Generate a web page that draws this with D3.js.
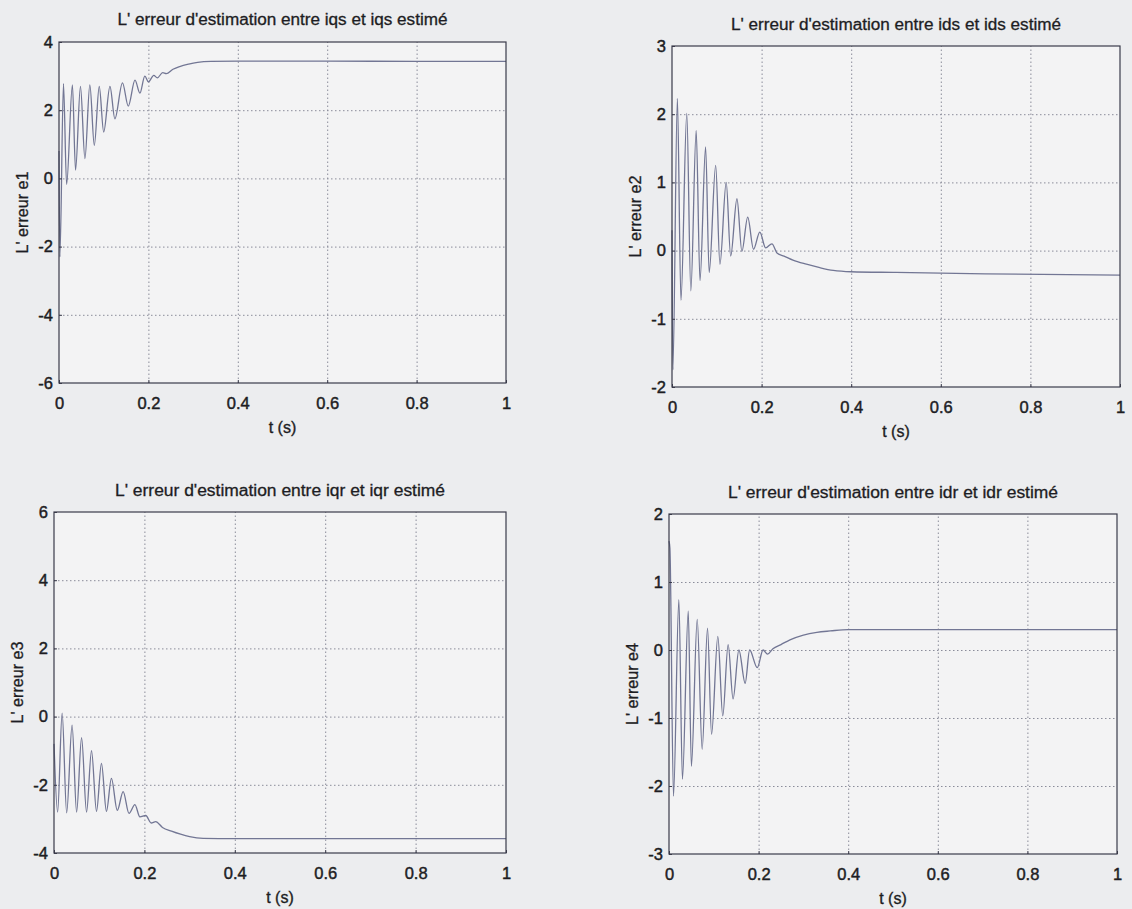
<!DOCTYPE html>
<html>
<head>
<meta charset="utf-8">
<script src="https://cdn.jsdelivr.net/npm/d3@7"></script>
<style>
  html, body { margin: 0; padding: 0; background: #ecedef; }
  svg { display: block; }
  text { font-family: "Liberation Sans", Arial, sans-serif; fill: #1e1e24; }
</style>
</head>
<body>
<svg id="fig" width="1132" height="909"></svg>
<script>
// ---- data -------------------------------------------------------------
const xTicks = [0, 0.2, 0.4, 0.6, 0.8, 1];
const xLabel = "t (s)";

const titles = [
  "L' erreur d'estimation entre iqs et iqs estimé",
  "L' erreur d'estimation entre ids et ids estimé",
  "L' erreur d'estimation entre iqr et iqr estimé",
  "L' erreur d'estimation entre idr et idr estimé"
];
const yLabels = ["L' erreur e1", "L' erreur e2", "L' erreur e3", "L' erreur e4"];

const e1Ticks = [-6, -4, -2, 0, 2, 4];
const e2Ticks = [-2, -1, 0, 1, 2, 3];
const e3Ticks = [-4, -2, 0, 2, 4, 6];
const e4Ticks = [-3, -2, -1, 0, 1, 2];

// e1 : iqs error (peaks / troughs of the transient, then the plateau)
const e1Time = [0, 0.002, 0.01, 0.017, 0.03, 0.037, 0.048, 0.058, 0.069, 0.079, 0.09, 0.1,
  0.114, 0.125, 0.142, 0.155, 0.17, 0.181, 0.192, 0.2, 0.212, 0.22, 0.232, 0.24, 0.255,
  0.27, 0.29, 0.31, 0.34, 0.4, 0.6, 0.8, 1];
const e1Values = [0.8, -2.3, 2.78, -0.18, 2.74, 0.24, 2.7, 0.58, 2.74, 0.97, 2.7, 1.36,
  2.7, 1.75, 2.8, 2.12, 2.88, 2.5, 3.0, 2.83, 3.02, 2.95, 3.1, 3.07, 3.2,
  3.28, 3.35, 3.4, 3.43, 3.44, 3.44, 3.43, 3.43];

// e2 : ids error
const e2Time = [0, 0.002, 0.012, 0.02, 0.033, 0.042, 0.054, 0.0625, 0.075, 0.083, 0.0975,
  0.107, 0.121, 0.131, 0.145, 0.156, 0.169, 0.182, 0.196, 0.209, 0.223, 0.235, 0.25,
  0.27, 0.3, 0.33, 0.36, 0.4, 0.5, 0.7, 1];
const e2Values = [0.3, -1.75, 2.23, -0.73, 2.01, -0.59, 1.76, -0.44, 1.52, -0.32, 1.25,
  -0.2, 1.0, -0.08, 0.76, -0.01, 0.49, 0.02, 0.27, 0.04, 0.1, -0.04, -0.08,
  -0.14, -0.2, -0.25, -0.29, -0.31, -0.32, -0.34, -0.36];

// e3 : iqr error
const e3Time = [0, 0.008, 0.018, 0.028, 0.04, 0.05, 0.061, 0.072, 0.083, 0.094, 0.105,
  0.116, 0.127, 0.14, 0.153, 0.166, 0.179, 0.19, 0.203, 0.215, 0.225, 0.24, 0.26,
  0.28, 0.3, 0.33, 0.4, 0.6, 1];
const e3Values = [-0.8, -2.8, 0.1, -2.82, -0.25, -2.8, -0.62, -2.8, -1.0, -2.78, -1.37,
  -2.78, -1.81, -2.75, -2.2, -2.84, -2.58, -2.94, -2.9, -3.12, -3.08, -3.25, -3.36,
  -3.45, -3.52, -3.57, -3.58, -3.58, -3.58];

// e4 : idr error
const e4Time = [0, 0.002, 0.01, 0.022, 0.03, 0.043, 0.05, 0.063, 0.074, 0.086, 0.095,
  0.109, 0.12, 0.132, 0.143, 0.156, 0.17, 0.18, 0.197, 0.21, 0.22, 0.232, 0.25, 0.27,
  0.3, 0.33, 0.36, 0.4, 0.6, 1];
const e4Values = [1.6, 1.5, -2.15, 0.74, -1.9, 0.57, -1.71, 0.45, -1.46, 0.32, -1.24,
  0.2, -0.97, 0.08, -0.72, 0.0, -0.49, 0.0, -0.26, 0.0, -0.06, 0.02, 0.08, 0.15,
  0.22, 0.26, 0.28, 0.3, 0.3, 0.3];

// ---- layout -----------------------------------------------------------
const panels = [
  { left: 59,  right: 506,  top: 42,  bottom: 383, titleY: 25,  ticks: e1Ticks, time: e1Time, values: e1Values },
  { left: 672, right: 1120, top: 46,  bottom: 387, titleY: 30,  ticks: e2Ticks, time: e2Time, values: e2Values },
  { left: 54,  right: 506,  top: 512, bottom: 853, titleY: 496, ticks: e3Ticks, time: e3Time, values: e3Values },
  { left: 669, right: 1117, top: 514, bottom: 854, titleY: 498, ticks: e4Ticks, time: e4Time, values: e4Values }
];

const svg = d3.select("#fig");
const axisColor = "#3a3b4a";
const gridColor = "#8a8c9a";
const lineColor = "#727694";
const ink = "#1c1c22";

panels.forEach((p, i) => {
  const w = p.right - p.left, h = p.bottom - p.top;
  const x = d3.scaleLinear().domain([0, 1]).range([0, w]);
  const y = d3.scaleLinear().domain(d3.extent(p.ticks)).range([h, 0]);

  const g = svg.append("g").attr("transform", `translate(${p.left},${p.top})`);

  g.append("rect").attr("width", w).attr("height", h).attr("fill", "#f3f3f4");

  // dotted grid
  const gx = g.append("g").attr("transform", `translate(0,${h})`)
    .call(d3.axisBottom(x).tickValues(xTicks.slice(1, -1)).tickSize(-h).tickFormat(""));
  const gy = g.append("g")
    .call(d3.axisLeft(y).tickValues(p.ticks.slice(1, -1)).tickSize(-w).tickFormat(""));
  [gx, gy].forEach(a => {
    a.select(".domain").remove();
    a.selectAll("line").attr("stroke", gridColor).attr("stroke-width", 1)
      .attr("stroke-dasharray", "1.5,2.5");
  });

  // curve
  const line = d3.line()
    .x((d, k) => x(p.time[k]))
    .y(d => y(d))
    .curve(d3.curveMonotoneX);
  g.append("path").datum(p.values)
    .attr("d", line)
    .attr("fill", "none")
    .attr("stroke", lineColor)
    .attr("stroke-width", 1.3)
    .attr("stroke-linejoin", "round");

  // tick labels
  const ax = g.append("g").attr("transform", `translate(0,${h})`)
    .call(d3.axisBottom(x).tickValues(xTicks).tickSize(3).tickPadding(11).tickFormat(d => String(d)));
  const ay = g.append("g")
    .call(d3.axisLeft(y).tickValues(p.ticks).tickSize(3).tickPadding(3).tickFormat(d => String(d)));
  [ax, ay].forEach(a => {
    a.select(".domain").remove();
    a.selectAll("line").attr("stroke", axisColor).attr("transform", null);
    a.selectAll("text")
      .style("font-family", "'Liberation Sans', Arial, sans-serif")
      .style("font-size", "16.5px")
      .attr("fill", ink)
      .attr("stroke", ink).attr("stroke-width", 0.45);
  });
  // inward ticks
  ax.selectAll(".tick line").attr("y2", -3);
  ay.selectAll(".tick line").attr("x2", 3);

  // axes box
  g.append("rect").attr("width", w).attr("height", h)
    .attr("fill", "none").attr("stroke", axisColor).attr("stroke-width", 1.2);

  // title
  svg.append("text")
    .attr("x", p.left + w / 2 - 165).attr("y", p.titleY)
    .attr("textLength", 330).attr("lengthAdjust", "spacingAndGlyphs")
    .style("font-size", "16px")
    .attr("stroke", ink).attr("stroke-width", 0.3)
    .text(titles[i]);

  // x label
  svg.append("text")
    .attr("x", p.left + w / 2).attr("y", p.bottom + 50)
    .attr("text-anchor", "middle")
    .style("font-size", "16px")
    .attr("stroke", ink).attr("stroke-width", 0.35)
    .text(xLabel);

  // y label
  svg.append("text")
    .attr("transform", `translate(${p.left - 31},${p.top + h / 2 + 41}) rotate(-90)`)
    .attr("textLength", 82).attr("lengthAdjust", "spacingAndGlyphs")
    .style("font-size", "16px")
    .attr("stroke", ink).attr("stroke-width", 0.3)
    .text(yLabels[i]);
});
</script>
</body>
</html>
